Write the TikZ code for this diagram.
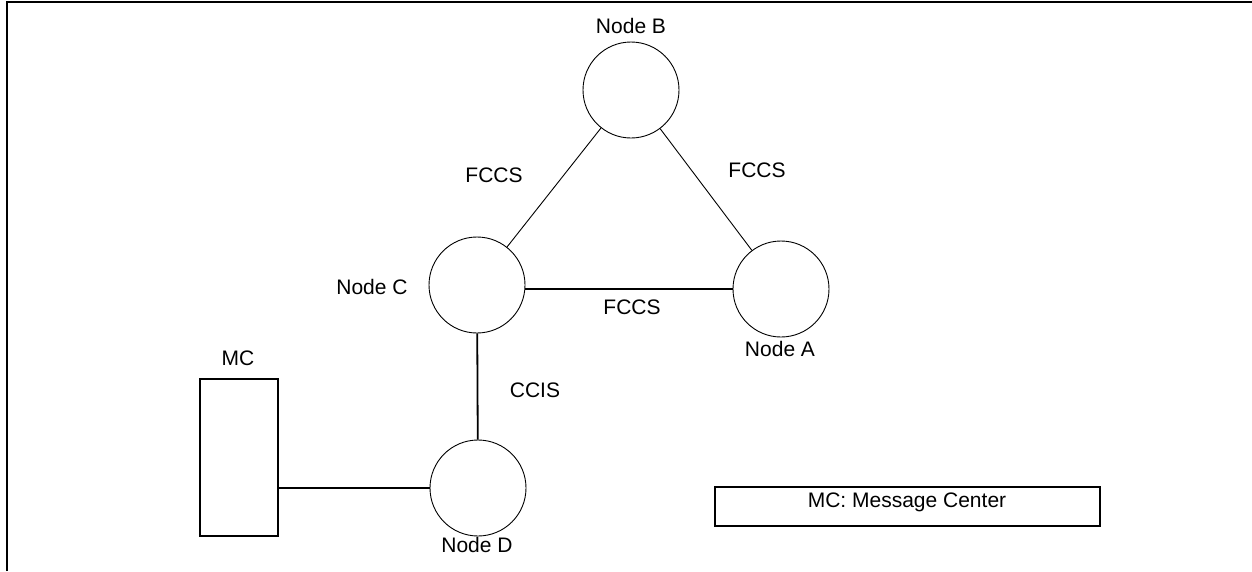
\documentclass[tikz,border=0pt]{standalone}
\usepackage{fontspec}
\setmainfont{Liberation Sans}
\usepackage{tikz}
\usetikzlibrary{positioning, calc}

\begin{document}
\begin{tikzpicture}[x=1pt, y=-1pt,
    site/.style={draw, circle, line width=0.9pt, minimum size=96pt, inner sep=0pt},
    lbl/.style={font=\fontsize{21}{25}\selectfont, inner sep=0pt},
    thin link/.style={line width=0.9pt},
    thick link/.style={line width=1.8pt}]
  \useasboundingbox (0,0) rectangle (1252,571);
  % Frame
  \draw[line width=2pt] (7,571) -- (7,2) -- (1252,2);
  % Switching nodes
  \node[site] (B) at (631,90) {};
  \node[site] (C) at (477,285) {};
  \node[site] (A) at (781,289) {};
  \node[site] (D) at (478,488) {};
  \node[lbl] (labB) at (631,26) {Node B};
  \node[lbl] (labC) at (372,287) {Node C};
  \node[lbl] (labA) at (780,349) {Node A};
  \node[lbl] (labD) at (477,545) {Node D};
  % Message center
  \node[draw, line width=1.8pt, minimum width=78pt, minimum height=157pt, inner sep=0pt] (mc) at (239,457.5) {};
  \node[lbl] (labMC) at (238,358) {MC};
  % Signalling links
  \draw[thin link] (B) -- (C);
  \draw[thin link] (B) -- (A);
  \draw[thick link] (A.west -| C.east) -- (A.west);
  \draw[thick link] (C) -- (D);
  \draw[thick link] (D.west -| mc.east) -- (D.west);
  \node[lbl] (fccsBC) at (494,175) {FCCS};
  \node[lbl] (fccsBA) at (757,170) {FCCS};
  \node[lbl] (fccsCA) at (632,307) {FCCS};
  \node[lbl] (ccis) at (535,390) {CCIS};
  % Legend
  \node[draw, line width=1.8pt, minimum width=385pt, minimum height=39pt, inner sep=0pt] (legend) at (907.5,506.5) {};
  \node[lbl] (legtext) at (907,502) {MC: Message Center};
\end{tikzpicture}
\end{document}
